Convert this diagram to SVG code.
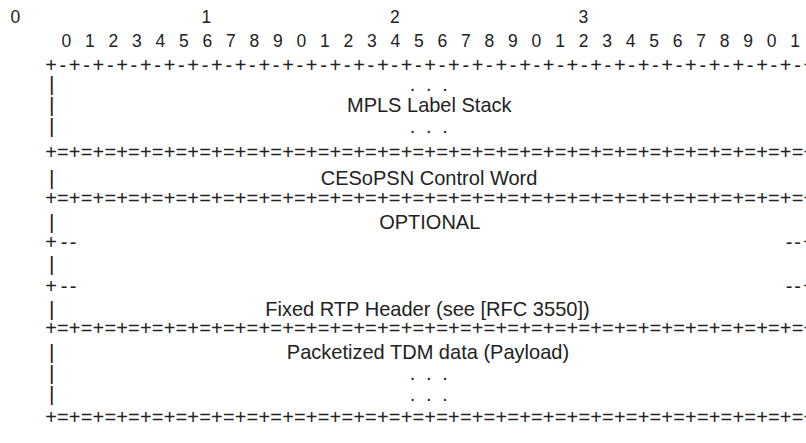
<svg xmlns="http://www.w3.org/2000/svg" width="806" height="443" viewBox="0 0 806 443">
<style>
text{font-family:"Liberation Sans",Arial,Helvetica,sans-serif;fill:#222}
.num{font-size:17.5px}
.rule{font-size:20px}
.dash{letter-spacing:2.68px}
.eq{letter-spacing:0.17px}
.lbl{font-size:21px}
.bar{font-size:21px}
.dots{font-size:20px}
</style>
<rect width="806" height="443" fill="#fff"/>
<g id="ruler">
<text class="num" x="10.5 106 201.6 295.9 390.1 484.4 578.6" y="23">0 1 2 3</text>
<text class="num" x="61.43" y="47" letter-spacing="4.4575">0 1 2 3 4 5 6 7 8 9 0 1 2 3 4 5 6 7 8 9 0 1 2 3 4 5 6 7 8 9 0 1</text>
</g>
<g id="connectors">
<text class="rule dash" x="45.16" y="71.8">+-+-+-+-+-+-+-+-+-+-+-+-+-+-+-+-+-+-+-+-+-+-+-+-+-+-+-+-+-+-+-+-+</text>
<text class="rule eq" x="45.16" y="159">+=+=+=+=+=+=+=+=+=+=+=+=+=+=+=+=+=+=+=+=+=+=+=+=+=+=+=+=+=+=+=+=+</text>
<text class="rule eq" x="45.16" y="204.5">+=+=+=+=+=+=+=+=+=+=+=+=+=+=+=+=+=+=+=+=+=+=+=+=+=+=+=+=+=+=+=+=+</text>
<text class="rule" x="45.16 60.7 69.7" y="249">+--</text>
<text class="rule" x="785.7 794.2 803.2" y="249">--+</text>
<text class="rule" x="45.16 60.7 69.7" y="293">+--</text>
<text class="rule" x="785.7 794.2 803.2" y="293">--+</text>
<text class="rule eq" x="45.16" y="335">+=+=+=+=+=+=+=+=+=+=+=+=+=+=+=+=+=+=+=+=+=+=+=+=+=+=+=+=+=+=+=+=+</text>
<text class="rule eq" x="45.16" y="424">+=+=+=+=+=+=+=+=+=+=+=+=+=+=+=+=+=+=+=+=+=+=+=+=+=+=+=+=+=+=+=+=+</text>
</g>
<g id="mpls">
<text class="bar" x="49" y="91">|</text>
<text class="bar" x="49" y="112">|</text>
<text class="bar" x="49" y="133">|</text>
<text class="dots" x="409.7 417.5 425.9 433.7 442.2" y="91">. . .</text>
<text class="lbl" x="347" y="112" textLength="164.5" lengthAdjust="spacingAndGlyphs">MPLS Label Stack</text>
<text class="dots" x="409.7 417.5 425.9 433.7 442.2" y="133">. . .</text>
</g>
<g id="control-word">
<text class="bar" x="49" y="185">|</text>
<text class="lbl" x="320.7" y="185" textLength="216.7" lengthAdjust="spacingAndGlyphs">CESoPSN Control Word</text>
</g>
<g id="optional">
<text class="bar" x="49" y="229">|</text>
<text class="lbl" x="379.2" y="229" textLength="101.1" lengthAdjust="spacingAndGlyphs">OPTIONAL</text>
<text class="bar" x="49" y="271">|</text>
<text class="bar" x="49" y="316">|</text>
<text class="lbl" x="265.2" y="316" textLength="324.5" lengthAdjust="spacingAndGlyphs">Fixed RTP Header (see [RFC 3550])</text>
</g>
<g id="payload">
<text class="bar" x="49" y="359">|</text>
<text class="lbl" x="286.8" y="359" textLength="282.3" lengthAdjust="spacingAndGlyphs">Packetized TDM data (Payload)</text>
<text class="bar" x="49" y="380">|</text>
<text class="dots" x="409.7 417.5 425.9 433.7 442.2" y="380">. . .</text>
<text class="bar" x="49" y="401">|</text>
<text class="dots" x="409.7 417.5 425.9 433.7 442.2" y="401">. . .</text>
</g>
</svg>
